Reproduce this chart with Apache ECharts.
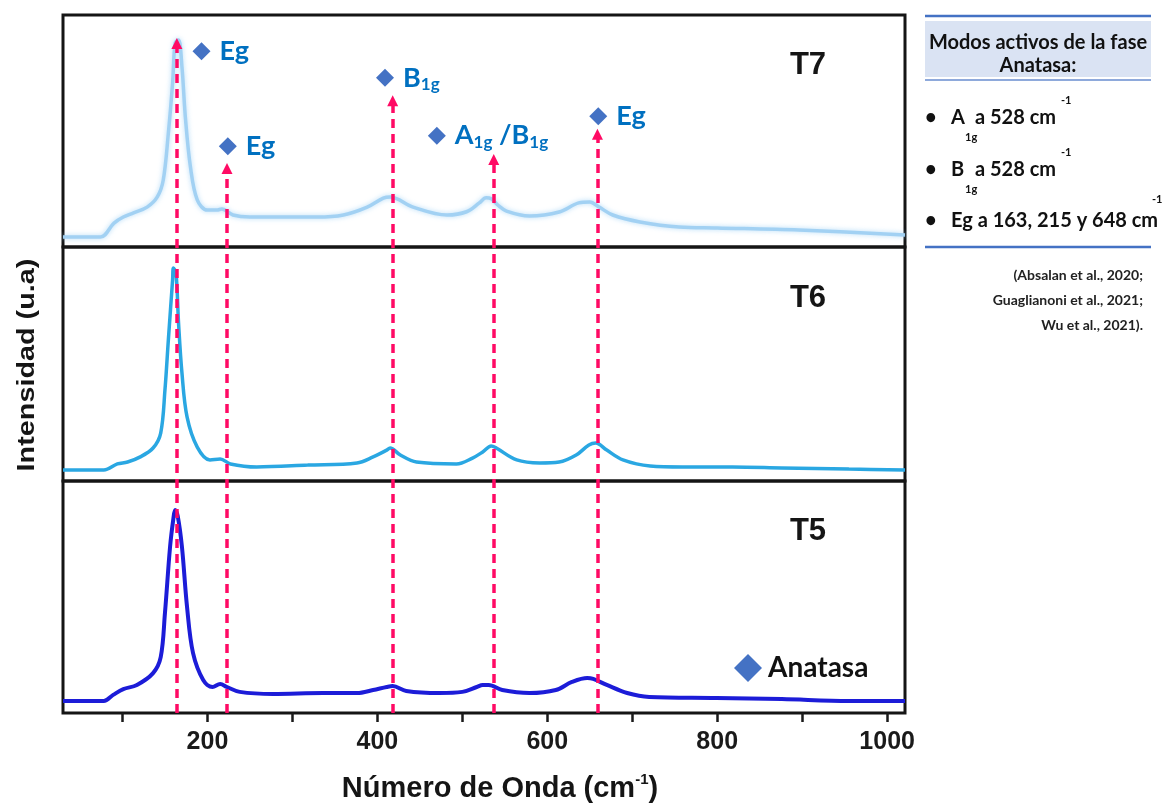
<!DOCTYPE html>
<html>
<head>
<meta charset="utf-8">
<script src="https://cdn.jsdelivr.net/npm/echarts@6/dist/echarts.min.js"></script>
<style>
  html, body { margin: 0; padding: 0; background: #ffffff; }
  #chart { width: 1163px; height: 810px; }
</style>
</head>
<body>
<div id="chart"></div>
<script>
// Raman spectra of three TiO2 samples (T7, T6, T5), offset in stacked panels.
// Wavenumber in cm^-1, intensity in arbitrary units (0-100 per panel).

const waveT7 = [30, 74, 90, 101, 113, 129, 141, 148, 154, 159, 162, 166, 170, 174, 180, 188, 200, 211, 217, 230,
  250, 289, 329, 360, 388, 407, 415, 442, 482, 505, 520, 528, 534, 542, 552, 579, 614, 637, 650, 661, 677, 709,
  755, 800, 896, 1021];
const intT7 = [4.3, 4.3, 10.3, 12.9, 14.7, 17.2, 21.6, 28.9, 49.1, 70.7, 87.9, 89.2, 77.6, 56.0, 34.5, 20.3, 15.9, 15.9, 16.4, 13.8,
  12.9, 12.9, 12.9, 13.8, 17.2, 21.1, 21.6, 17.2, 13.8, 15.2, 19.0, 21.2, 20.8, 18.0, 15.5, 13.4, 15.1, 19.0, 19.4, 17.2, 13.8, 10.8,
  8.6, 8.2, 7.3, 5.2];

const waveT6 = [30, 78, 94, 106, 121, 136, 145, 150, 154, 159, 160, 163, 166, 170, 176, 188, 203, 215, 227, 258,
  318, 376, 395, 411, 415, 427, 446, 493, 512, 524, 534, 540, 564, 591, 614, 634, 649, 657, 670, 689,
  721, 759, 818, 876, 955, 1021];
const intT6 = [4.7, 4.7, 7.3, 8.1, 10.3, 14.1, 20.5, 38.9, 60.3, 85.9, 91.0, 88.9, 67.5, 46.2, 27.4, 14.5, 9.0, 9.4, 7.3, 6.0,
  6.8, 7.7, 10.3, 13.2, 14.1, 11.1, 8.1, 7.3, 9.8, 12.4, 15.0, 14.1, 9.0, 7.7, 8.1, 11.1, 15.4, 16.2, 13.2, 9.0,
  6.4, 6.0, 6.0, 5.6, 5.1, 4.7];

const waveT5 = [30, 78, 89, 101, 117, 136, 145, 150, 156, 160, 162, 165, 170, 176, 183, 195, 206, 215, 223, 238,
  277, 336, 376, 395, 411, 418, 434, 473, 500, 517, 524, 531, 547, 579, 610, 629, 647, 654, 670, 694,
  720, 799, 876, 955, 1021];
const intT5 = [5.2, 5.2, 7.8, 10.3, 12.1, 17.2, 24.1, 43.1, 71.6, 84.0, 87.5, 85.0, 71.6, 45.7, 25.9, 14.2, 11.2, 12.5, 11.2, 9.1,
  8.2, 8.6, 8.6, 9.9, 11.2, 11.6, 9.5, 8.6, 9.1, 11.2, 12.1, 12.1, 9.9, 8.6, 9.9, 13.4, 15.1, 14.7, 12.1, 8.6,
  6.9, 6.5, 6.0, 5.2, 5.2];

const panelNames = ['T7', 'T6', 'T5'];

// Anatase Raman modes: dashed arrows (wavenumber, arrow end height on the full-height overlay, 0-100)
const modeWave = [164, 223, 418, 537, 659];
const arrowTop = [95.9, 78.0, 87.7, 79.3, 82.9];

// Mode tags: diamond position and text (_ marks a subscript)
const tagWave = [193, 224, 409, 470, 660];
const tagLevel = [94.8, 81.2, 91.0, 82.7, 85.5];
const tagText = ['Eg', 'Eg', 'B_1g', 'A_1g /B_1g', 'Eg'];

const xTickValues = [100, 200, 300, 400, 500, 600, 700, 800, 900, 1000];
const xLabelValues = [200, 400, 600, 800, 1000];

const X_MIN = 30, X_MAX = 1021;

// ---- layout ----
const LEFT = 63, RIGHT = 258;
const panelTop = [15, 247, 481];
const panelHeight = [232, 234, 232];
const PLOT_TOP = 15, PLOT_BOTTOM = 713;

const ARIAL = '"Liberation Sans", Arial, sans-serif';
const CAL = 'Lato, "Open Sans", sans-serif';
const TAG_BLUE = '#0070C0';
const DIAMOND = '#4472C4';
const ARROW = '#FF0A64';

const spectra = [
  { name: 'T7', wave: waveT7, val: intT7, color: '#a2d1f3', width: 3.5, glow: true },
  { name: 'T6', wave: waveT6, val: intT6, color: '#2aa7e2', width: 3.5, glow: false },
  { name: 'T5', wave: waveT5, val: intT5, color: '#1c1cd8', width: 4, glow: false }
];

const grids = [];
const xAxes = [];
const yAxes = [];
for (let i = 0; i < 3; i++) {
  grids.push({
    left: LEFT, right: RIGHT, top: panelTop[i], height: panelHeight[i],
    show: true, borderColor: '#151515', borderWidth: 3, backgroundColor: 'transparent'
  });
  const isBottom = i === 2;
  xAxes.push({
    type: 'value', gridIndex: i, min: X_MIN, max: X_MAX,
    axisLine: { show: false },
    splitLine: { show: false },
    axisTick: isBottom ? {
      show: true, inside: false, length: 9, customValues: xTickValues,
      lineStyle: { color: '#1a1a1a', width: 2.5 }
    } : { show: false },
    axisLabel: isBottom ? {
      show: true, customValues: xLabelValues, margin: 17,
      formatter: v => String(v),
      color: '#1a1a1a', fontFamily: ARIAL, fontWeight: 'bold', fontSize: 25
    } : { show: false }
  });
  yAxes.push({
    type: 'value', gridIndex: i, min: 0, max: 100,
    show: false, splitLine: { show: false }
  });
}
// full-height overlay used for the mode arrows and tags
grids.push({ left: LEFT, right: RIGHT, top: PLOT_TOP, height: PLOT_BOTTOM - PLOT_TOP, show: false });
xAxes.push({ type: 'value', gridIndex: 3, min: X_MIN, max: X_MAX, show: false, splitLine: { show: false } });
yAxes.push({ type: 'value', gridIndex: 3, min: 0, max: 100, show: false, splitLine: { show: false } });

const series = spectra.map((s, i) => ({
  name: s.name,
  type: 'line',
  xAxisIndex: i, yAxisIndex: i,
  data: s.wave.map((w, k) => [w, s.val[k]]),
  showSymbol: false,
  smooth: 0.35,
  silent: true,
  z: 2,
  lineStyle: Object.assign({ color: s.color, width: s.width },
    s.glow ? { shadowBlur: 5, shadowColor: 'rgba(150,205,245,0.7)' } : {})
}));

series.push({
  type: 'lines',
  coordinateSystem: 'cartesian2d',
  xAxisIndex: 3, yAxisIndex: 3,
  silent: true,
  z: 5,
  symbol: ['none', 'triangle'],
  symbolSize: 11,
  lineStyle: { color: ARROW, width: 3.5, type: [9, 6], opacity: 1, curveness: 0 },
  data: modeWave.map((w, i) => ({ coords: [[w, 0], [w, arrowTop[i]]] }))
});

function tagRich(txt) {
  return txt.split(/_(\w+)/).map((part, k) => part === '' ? '' :
    (k % 2 ? '{s|' + part + '}' : '{m|' + part + '}')).join('');
}

series.push({
  name: 'Anatasa',
  type: 'scatter',
  xAxisIndex: 3, yAxisIndex: 3,
  silent: true,
  z: 6,
  symbol: 'diamond',
  symbolSize: 18,
  itemStyle: { color: DIAMOND, opacity: 1 },
  data: tagWave.map((w, i) => ({ value: [w, tagLevel[i]], tag: tagText[i] })),
  label: {
    show: true, position: 'right', distance: 9,
    formatter: p => tagRich(p.data.tag),
    rich: {
      m: { fontFamily: CAL, fontWeight: 'bold', fontSize: 27, color: TAG_BLUE, lineHeight: 30 },
      s: { fontFamily: CAL, fontWeight: 'bold', fontSize: 17, color: TAG_BLUE, lineHeight: 10, verticalAlign: 'bottom' }
    }
  }
});

// ---- text and side box ----
const graphic = [];
const panelLabelY = [65, 298, 531];
panelNames.forEach((n, i) => graphic.push({
  type: 'text', x: 808, y: panelLabelY[i], z: 10,
  style: { text: n, fill: '#151515', font: 'bold 31px ' + ARIAL, align: 'center', verticalAlign: 'middle' }
}));

graphic.push({
  type: 'text', x: 500, y: 789, z: 10,
  style: {
    text: '{t|Número de Onda (cm}{u|-1}{t|)}',
    align: 'center', verticalAlign: 'middle',
    rich: {
      t: { font: 'bold 29px ' + ARIAL, fill: '#151515', lineHeight: 34 },
      u: { font: 'bold 15px ' + ARIAL, fill: '#151515', lineHeight: 22, verticalAlign: 'top' }
    }
  }
});

graphic.push({
  type: 'text', x: 27, y: 365, rotation: Math.PI / 2, scaleX: 1.2, z: 10,
  style: { text: 'Intensidad (u.a)', fill: '#151515', font: 'bold 24px ' + ARIAL, align: 'center', verticalAlign: 'middle' }
});

// side box: active modes of the anatase phase
const BX1 = 925, BX2 = 1151;
graphic.push(
  { type: 'rect', shape: { x: BX1, y: 21, width: BX2 - BX1, height: 56 }, style: { fill: '#DAE3F3' } },
  { type: 'line', shape: { x1: BX1, y1: 16, x2: BX2, y2: 16 }, style: { stroke: '#4472C4', lineWidth: 2.5 } },
  { type: 'line', shape: { x1: BX1, y1: 80, x2: BX2, y2: 80 }, style: { stroke: '#8EA9DB', lineWidth: 2 } },
  { type: 'line', shape: { x1: BX1, y1: 247, x2: BX2, y2: 247 }, style: { stroke: '#4472C4', lineWidth: 2.5 } }
);

const boxFont = 'bold 20px ' + CAL;
const smallFont = 'bold 11px ' + CAL;
function t(x, y, text, font, align, fill) {
  graphic.push({
    type: 'text', x: x, y: y, z: 10,
    style: { text: text, font: font, fill: fill || '#111111', align: align || 'left', verticalAlign: 'middle' }
  });
}
t(1038, 43, 'Modos activos de la fase', boxFont, 'center');
t(1038, 66, 'Anatasa:', boxFont, 'center');

const rowY = [118, 170, 221];
['A', 'B'].forEach((letter, i) => {
  t(925, rowY[i], '•', boxFont);
  t(951, rowY[i], letter, boxFont);
  t(965, rowY[i] + 19, '1g', smallFont);
  t(975, rowY[i], 'a 528 cm', boxFont);
  t(1061, rowY[i] - 18, '-1', smallFont);
});
t(925, rowY[2], '•', boxFont);
t(951, rowY[2], 'Eg a 163, 215 y 648 cm', boxFont);
t(1152, rowY[2] - 22, '-1', smallFont);

const citeFont = 'bold 14px ' + CAL;
t(1143, 275, '(Absalan et al., 2020;', citeFont, 'right', '#222222');
t(1143, 300, 'Guaglianoni et al., 2021;', citeFont, 'right', '#222222');
t(1143, 325, 'Wu et al., 2021).', citeFont, 'right', '#222222');

const option = {
  backgroundColor: '#ffffff',
  animation: false,
  grid: grids,
  xAxis: xAxes,
  yAxis: yAxes,
  legend: {
    data: ['Anatasa'],
    left: 729, top: 649,
    icon: 'diamond', itemWidth: 28, itemHeight: 28, itemGap: 0,
    selectedMode: false,
    itemStyle: { opacity: 1 },
    textStyle: { fontFamily: CAL, fontWeight: 'bold', fontSize: 28, color: '#111111', padding: [0, 0, 0, 1] }
  },
  series: series,
  graphic: graphic
};

const chart = echarts.init(document.getElementById('chart'), null, { renderer: 'canvas' });
chart.setOption(option);
</script>
</body>
</html>
